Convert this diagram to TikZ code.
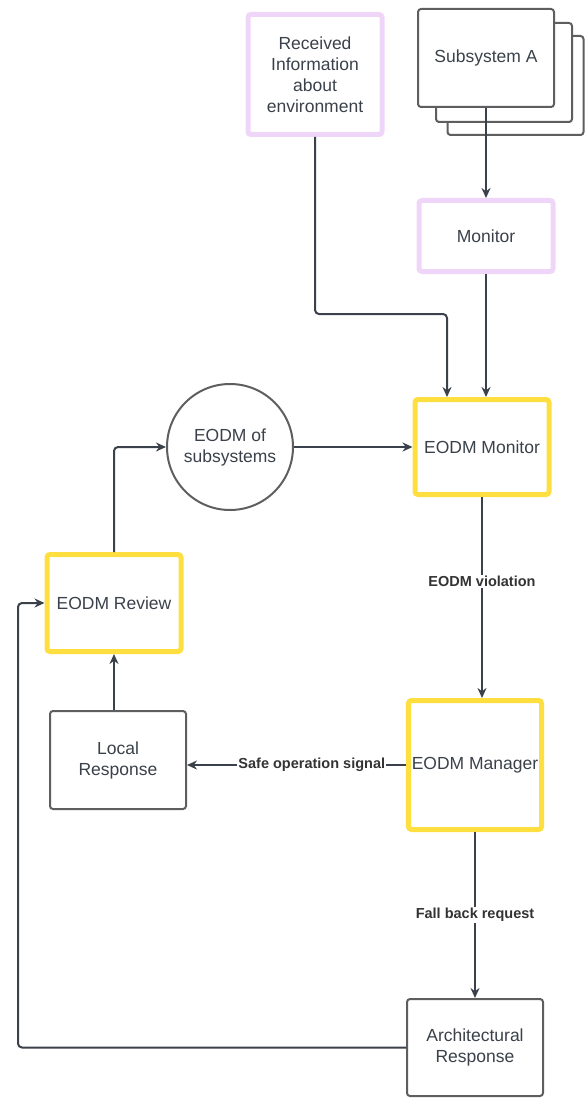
\documentclass[tikz,border=0pt]{standalone}
\usepackage{fontspec}
\setmainfont{Liberation Sans}
\usetikzlibrary{arrows.meta}
\definecolor{linegray}{HTML}{3A414A}
\definecolor{boxgray}{HTML}{5E5E5E}
\definecolor{hilite}{HTML}{FFDF3F}
\definecolor{lilac}{HTML}{EFD6F8}
\begin{document}
\begin{tikzpicture}[x=1pt, y=-1pt,
  every node/.style = {align=center, text=linegray, font=\fontsize{17.5}{21}\selectfont},
  plain/.style = {shape=rectangle, rounded corners=3pt, draw=boxgray, line width=2pt,
    fill=white, minimum width=136pt, minimum height=98pt},
  lilacbox/.style = {shape=rectangle, rounded corners=3pt, draw=lilac, line width=5pt,
    minimum width=134pt},
  eodmbox/.style = {shape=rectangle, rounded corners=3pt, draw=hilite, line width=5pt,
    minimum width=134pt},
  flow/.style = {draw=linegray, line width=2pt, -{Stealth[length=10pt,width=9pt]}},
  tag/.style = {fill=white, inner sep=1pt, text=black!80,
    font=\bfseries\fontsize{14.5}{17}\selectfont}
]
  \useasboundingbox (0,0) rectangle (588,1099);

  % top row
  \node[lilacbox, minimum height=120pt] (recv) at (315,74.5)
    {Received\\Information\\about\\environment};
  \node[plain, minimum height=99pt] (sub3) at (515.5,85.5) {};
  \node[plain, minimum height=99pt] (sub2) at (504,72.5) {};
  \node[plain] (sub) at (486,58) {Subsystem A};
  \node[lilacbox, minimum height=71pt] (mon) at (486,236) {Monitor};

  % middle
  \node[eodmbox, minimum height=95pt] (emon) at (482,447) {EODM Monitor};
  \node[shape=circle, draw=boxgray, line width=2pt, minimum size=126pt,
    inner sep=0pt] (eos) at (230,447) {EODM of\\subsystems};
  \node[eodmbox, minimum height=97pt] (rev) at (114,603) {EODM Review};
  \node[plain] (loc) at (118,760) {Local\\Response};
  \node[eodmbox, minimum width=133pt, minimum height=129pt] (emgr) at (475,765)
    {EODM Manager};
  \node[plain, minimum height=97pt] (arch) at (475,1047.5) {Architectural\\Response};

  \coordinate (bend) at (447,314);
  \coordinate (fb) at (18,0);

  % connectors
  \draw[flow] (sub.south) -- (mon.north);
  \draw[flow, rounded corners=4pt] (recv.south) |- (bend) -- (bend |- emon.north);
  \draw[flow] (mon.south) -- (mon.south |- emon.north);
  \draw[flow] (eos.east) -- (emon.west);
  \draw[flow, rounded corners=4pt] (rev.north) |- (eos.west);
  \draw[flow] (rev.south |- loc.north) -- (rev.south);
  \draw[flow] (emon.south) -- (emon.south |- emgr.north)
    node[tag, pos=0.42] {EODM violation};
  \draw[flow] (emgr.west) -- (emgr.west -| loc.east)
    node[tag, pos=0.43] {Safe operation signal};
  \draw[flow] (emgr.south) -- (arch.north)
    node[tag, midway] {Fall back request};
  \draw[flow, rounded corners=4pt] (arch.west) -- (arch.west -| fb) |- (rev.west);

\end{tikzpicture}
\end{document}
